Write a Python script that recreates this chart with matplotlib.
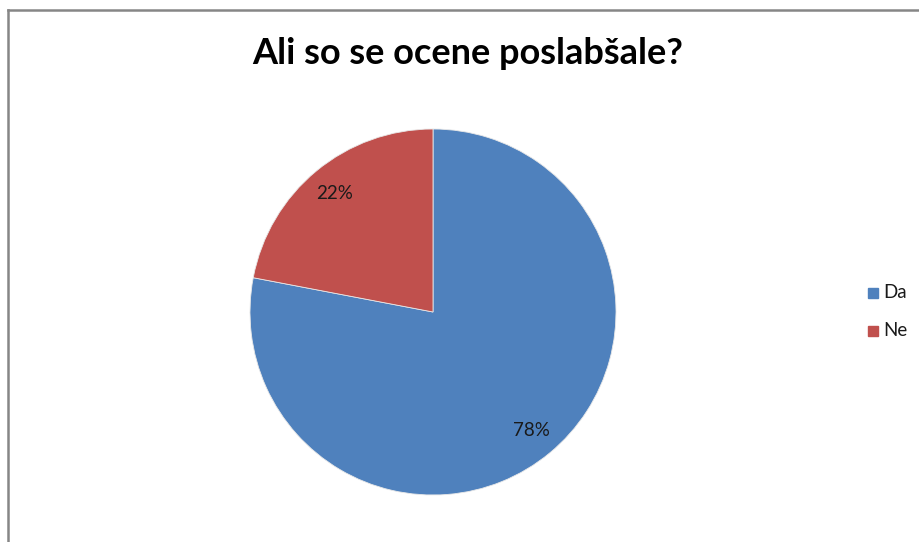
import matplotlib
matplotlib.use("Agg")
import matplotlib.pyplot as plt
from matplotlib.lines import Line2D

labels = ["Da", "Ne"]
shares = [78, 22]
colors = ["#4F81BD", "#C0504D"]
title = "Ali so se ocene poslabšale?"

plt.rcParams["font.family"] = ["Lato", "DejaVu Sans"]

W, H = 919, 542
fig = plt.figure(figsize=(W / 100, H / 100), dpi=100)

# chart frame (only top and left edges fall inside the image)
fig.add_artist(Line2D([8 / W, 8 / W], [0, 1 - 10 / H], color="#868686", lw=1.8))
fig.add_artist(Line2D([8 / W, 1], [1 - 10 / H, 1 - 10 / H], color="#868686", lw=1.8))

# pie placed in pixel coordinates: centre (433, 312), radius 183
cx, cy, r = 433, 312, 183
ax = fig.add_axes([(cx - r) / W, (H - cy - r) / H, 2 * r / W, 2 * r / H])
wedges, texts, autotexts = ax.pie(
    shares, colors=colors, startangle=90, counterclock=False,
    autopct="%1.0f%%", pctdistance=0.84,
    wedgeprops=dict(edgecolor="#E8E8E8", linewidth=0.6),
    textprops=dict(fontsize=13.5, color="#1a1a1a"),
)
ax.set_xlim(-1, 1)
ax.set_ylim(-1, 1)
ax.set_aspect("equal")
ax.axis("off")

fig.text(468 / W, 1 - 53 / H, title, ha="center", va="center",
         fontsize=26, fontweight="bold", color="black")

# legend
for i, (lab, col) in enumerate(zip(labels, colors)):
    y = 1 - (293 + 38 * i) / H
    fig.patches.append(plt.Rectangle((868 / W, y - 5 / H), 10 / W, 10 / H,
                                     transform=fig.transFigure, color=col))
    fig.text(883 / W, y, lab, ha="left", va="center", fontsize=13.5, color="#1a1a1a")

fig.savefig("out.png", dpi=100, facecolor="white")
